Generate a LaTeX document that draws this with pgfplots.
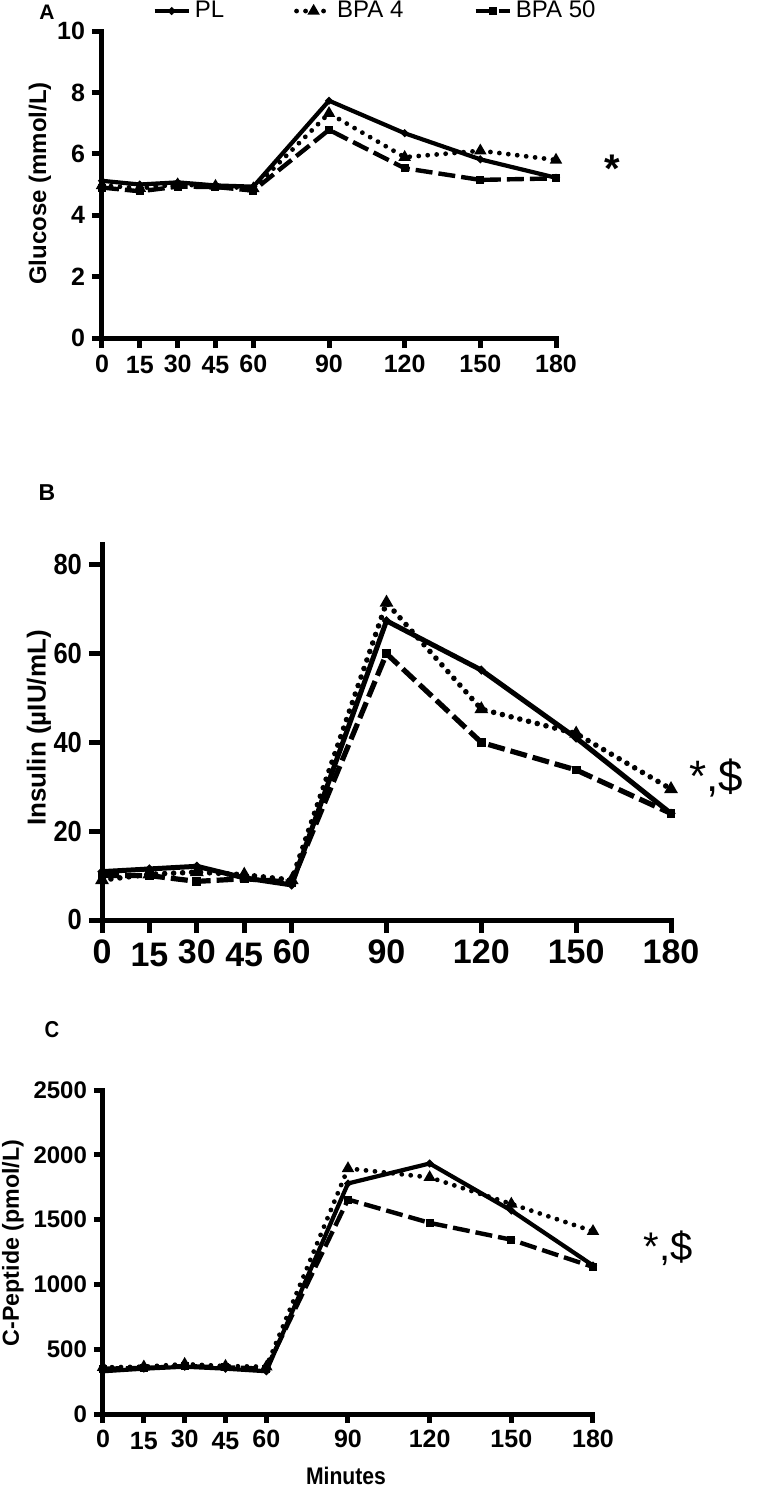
\documentclass[border=0pt]{standalone}
\usepackage{fontspec}
\setmainfont{Liberation Sans}
\newfontfamily\narrow{Liberation Sans}[FakeStretch=0.88]
\usepackage{pgfplots}
\pgfplotsset{compat=1.18}

\pgfplotsset{
  panel/.style={
    scale only axis,
    axis lines*=left,
    axis line style={line width=2.5pt, line cap=rect},
    tick align=outside,
    tick style={line width=2.5pt, black},
    major tick length=5pt,
    xmin=0, xmax=180, ymin=0,
    % 15 and 45 sit a little lower, as in the original
    xtick={0,30,60,90,120,150,180},
    extra x ticks={15,45},
    /pgf/number format/assume math mode=true,
    /pgf/number format/1000 sep={},
    xticklabel style={font=\bfseries\fontsize{12.5}{12.5}\selectfont},
    yticklabel style={font=\bfseries\fontsize{12.5}{12.5}\selectfont},
    clip=false,
  },
  pl/.style={black, line width=2.1pt, solid, mark=*, mark size=0.6pt},
  bpa4/.style={black, line width=2.4pt, line cap=round, dash pattern=on 0pt off 4.5pt,
    mark=triangle*, mark size=1.2pt, mark options={solid}},
  bpa50/.style={black, line width=2.2pt, dash pattern=on 8.5pt off 3pt,
    mark=square*, mark size=0.9pt, mark options={solid}},
}

\begin{document}
\begin{tikzpicture}
\path[use as bounding box] (0,0) rectangle (384.5pt,-744.5pt);

% A: glucose
\begin{axis}[panel, at={(51pt,-169pt)}, anchor=south west,
  width=227pt, height=153.5pt, ymax=10, ytick={0,2,...,10},
  extra x tick style={xticklabel style={yshift=-0.75pt}},
  legend columns=3,
  legend style={draw=none, fill=none, at={(0.6035,1.065)}, anchor=center,
    font=\fontsize{12}{12}\selectfont,
    /tikz/every even column/.append style={column sep=33pt}}]
\addplot[pl] coordinates {(0,5.12)(15,5.0)(30,5.07)(45,4.97)(60,4.93)(90,7.73)(120,6.67)(150,5.82)(180,5.22)};
\addplot[bpa4] coordinates {(0,4.97)(15,4.88)(30,5.0)(45,4.95)(60,4.87)(90,7.32)(120,5.89)(150,6.1)(180,5.8)};
\addplot[bpa50] coordinates {(0,4.9)(15,4.78)(30,4.93)(45,4.92)(60,4.8)(90,6.78)(120,5.53)(150,5.15)(180,5.2)};
\legend{PL, BPA 4, BPA 50}
\end{axis}

% B: insulin
\begin{axis}[panel, at={(51pt,-460pt)}, anchor=south west,
  width=284.5pt, height=188pt, ymax=84.7, ytick={0,20,40,60,80},
  major tick length=6.5pt,
  extra x tick style={xticklabel style={yshift=-1.75pt}},
  xticklabel style={font=\bfseries\fontsize{17}{17}\selectfont},
  yticklabel style={font=\narrow\bfseries\fontsize{14.5}{14.5}\selectfont}]
\addplot[pl, line width=2.5pt] coordinates {(0,10.9)(15,11.5)(30,12.1)(45,9.5)(60,7.9)(90,67.4)(120,56.3)(150,41)(180,24)};
\addplot[bpa4, line width=2.8pt] coordinates {(0,9.0)(15,10.3)(30,10.8)(45,10.2)(60,9.0)(90,71.5)(120,47.5)(150,42)(180,29.5)};
\addplot[bpa50, line width=2.6pt] coordinates {(0,10.0)(15,10.0)(30,8.7)(45,9.3)(60,8.5)(90,60)(120,40)(150,33.8)(180,24)};
\end{axis}

% C: C-peptide
\begin{axis}[panel, at={(51.5pt,-707pt)}, anchor=south west,
  width=245pt, height=162pt, ymax=2500, ytick={0,500,...,2500},
  major tick length=4.5pt,
  extra x tick style={xticklabel style={yshift=-1.25pt}},
  xticklabel style={font=\bfseries\fontsize{12.5}{12.5}\selectfont},
  yticklabel style={font=\bfseries\fontsize{12}{12}\selectfont}]
\addplot[pl] coordinates {(0,330)(15,350)(30,365)(45,350)(60,330)(90,1779)(120,1933)(150,1570)(180,1146)};
\addplot[bpa4] coordinates {(0,360)(15,365)(30,385)(45,370)(60,365)(90,1895)(120,1826)(150,1621)(180,1410)};
\addplot[bpa50] coordinates {(0,350)(15,355)(30,370)(45,360)(60,350)(90,1655)(120,1475)(150,1345)(180,1135)};
\end{axis}

% panel letters, axis titles and significance marks
\node[font=\bfseries\fontsize{10.5}{10.5}\selectfont] at (23.5pt,-6pt) {A};
\node[font=\bfseries\fontsize{11.5}{11.5}\selectfont] at (23.5pt,-246.5pt) {B};
\node[font=\narrow\bfseries\fontsize{11.5}{11.5}\selectfont] at (26pt,-515pt) {C};
\node[rotate=90, font=\bfseries\fontsize{12}{12}\selectfont] at (20pt,-91.75pt) {Glucose (mmol/L)};
\node[rotate=90, font=\bfseries\fontsize{13}{13}\selectfont] at (19.5pt,-364pt) {Insulin (µIU/mL)};
\node[rotate=90, font=\bfseries\fontsize{11.6}{11.6}\selectfont] at (6.5pt,-621.5pt) {C-Peptide (pmol/L)};
\node[font=\narrow\bfseries\fontsize{12}{12}\selectfont] at (173pt,-738pt) {Minutes};
\node[font=\bfseries\fontsize{20}{20}\selectfont] at (306pt,-84.5pt) {*};
\node[font=\fontsize{22}{22}\selectfont] at (358pt,-389pt) {*,\$};
\node[font=\fontsize{20}{20}\selectfont] at (334pt,-624pt) {*,\$};
\end{tikzpicture}
\end{document}
